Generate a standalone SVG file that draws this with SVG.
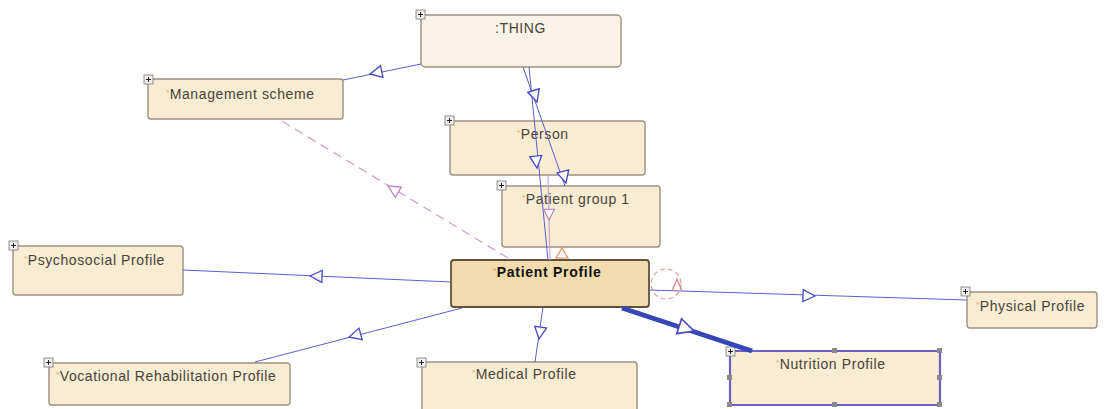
<svg xmlns="http://www.w3.org/2000/svg" width="1105" height="409" viewBox="0 0 1105 409">
  <defs>
    <style>
      .node { fill: #f8ecd3; stroke: #9b9183; stroke-width: 1.4; }
      .thing { fill: #faf3e6; }
      .focus { fill: #f2dcae; stroke: #5e5140; stroke-width: 1.8; }
      .sel { stroke: #6b5fc8; stroke-width: 2.2; }
      .lbl { font-family: "Liberation Sans", Arial, sans-serif; font-size: 14px; letter-spacing: 0.6px; fill: #4a4236; }
      .bold { font-weight: bold; fill: #111; letter-spacing: 0.7px; }
      .star { font-size: 8px; fill: #e8a860; }
      .plus rect { fill: #eeeeee; stroke: #777; stroke-width: 0.8; }
      .plus path { stroke: #222; stroke-width: 1; }
      .edge { fill: none; stroke: #5b5fd0; stroke-width: 1; }
      .pink { fill: none; stroke: #c9a6cf; stroke-width: 1.2; }
      .dash { fill: none; stroke: #cfa2c8; stroke-width: 1.3; stroke-dasharray: 9 6; }
      .tri { fill: #ffffff; stroke: #4248c8; stroke-width: 1.3; }
      .tripink { fill: #ffffff; stroke: #b57cc8; stroke-width: 1.2; }
      .handle { fill: #8a8a8a; }
    </style>
    <g id="plus" class="plus">
      <rect x="0" y="0" width="9" height="9"/>
      <path d="M2 4.5 H7 M4.5 2 V7"/>
    </g>
    <!-- open triangle arrowhead, tip at origin pointing along +x -->
    <path id="arrow" d="M0 0 L-12 -6 L-12 6 Z"/>
  </defs>

  <!-- nodes -->
  <g id="thing">
    <rect class="node thing" x="421" y="15" width="200" height="52" rx="4"/>
    <text class="lbl" x="495" y="33">:THING</text>
    <use href="#plus" x="416" y="10"/>
  </g>
  <g id="management-scheme">
    <rect class="node" x="148" y="79" width="195" height="40" rx="3"/>
    <text class="lbl" x="166" y="99"><tspan class="star" dy="-4">*</tspan><tspan dy="4">Management scheme</tspan></text>
    <use href="#plus" x="144" y="75"/>
  </g>
  <g id="person">
    <rect class="node" x="450" y="121" width="195" height="54" rx="3"/>
    <text class="lbl" x="517" y="139"><tspan class="star" dy="-4">*</tspan><tspan dy="4">Person</tspan></text>
    <use href="#plus" x="445" y="116"/>
  </g>
  <g id="patient-group-1">
    <rect class="node" x="502" y="186" width="158" height="61" rx="3"/>
    <text class="lbl" x="522" y="204"><tspan class="star" dy="-4">*</tspan><tspan dy="4">Patient group 1</tspan></text>
    <use href="#plus" x="497" y="181"/>
  </g>
  <g id="psychosocial-profile">
    <rect class="node" x="13" y="246" width="170" height="49" rx="3"/>
    <text class="lbl" x="24" y="265"><tspan class="star" dy="-4">*</tspan><tspan dy="4">Psychosocial Profile</tspan></text>
    <use href="#plus" x="9" y="241"/>
  </g>
  <g id="physical-profile">
    <rect class="node" x="967" y="292" width="130" height="36" rx="3"/>
    <text class="lbl" x="976" y="311"><tspan class="star" dy="-4">*</tspan><tspan dy="4">Physical Profile</tspan></text>
    <use href="#plus" x="961" y="287"/>
  </g>
  <g id="vocational-rehabilitation-profile">
    <rect class="node" x="49" y="363" width="241" height="42" rx="3"/>
    <text class="lbl" x="56" y="381"><tspan class="star" dy="-4">*</tspan><tspan dy="4">Vocational Rehabilitation Profile</tspan></text>
    <use href="#plus" x="44" y="358"/>
  </g>
  <g id="medical-profile">
    <rect class="node" x="422" y="362" width="215" height="52" rx="3"/>
    <text class="lbl" x="472" y="379"><tspan class="star" dy="-4">*</tspan><tspan dy="4">Medical Profile</tspan></text>
    <use href="#plus" x="417" y="358"/>
  </g>
  <g id="nutrition-profile">
    <rect class="node sel" x="730" y="351" width="210" height="54" rx="2"/>
    <text class="lbl" x="776" y="369"><tspan class="star" dy="-4">*</tspan><tspan dy="4">Nutrition Profile</tspan></text>
    <rect class="handle" x="727" y="348" width="5" height="5"/>
    <rect class="handle" x="832" y="348" width="5" height="5"/>
    <rect class="handle" x="937" y="348" width="5" height="5"/>
    <rect class="handle" x="727" y="375" width="5" height="5"/>
    <rect class="handle" x="937" y="375" width="5" height="5"/>
    <rect class="handle" x="727" y="402" width="5" height="5"/>
    <rect class="handle" x="832" y="402" width="5" height="5"/>
    <rect class="handle" x="937" y="402" width="5" height="5"/>
    <use href="#plus" x="726" y="347"/>
  </g>
  <g id="patient-profile">
    <rect class="node focus" x="451" y="260" width="198" height="47" rx="3"/>
    <text class="lbl bold" x="493" y="277"><tspan class="star" dy="-4">*</tspan><tspan dy="4">Patient Profile</tspan></text>
  </g>

  <!-- connectors -->
  <g id="connectors">
    <!-- :THING to Management scheme -->
    <line class="edge" x1="421" y1="64" x2="343" y2="80"/>
    <use href="#arrow" class="tri" transform="translate(370,74) rotate(168)"/>
    <!-- :THING down through Person to Patient Profile -->
    <line class="edge" x1="529" y1="67" x2="548" y2="260"/>
    <use href="#arrow" class="tri" transform="translate(537,168) rotate(84)"/>
    <!-- :THING down to Patient group 1 -->
    <line class="edge" x1="523" y1="67" x2="565" y2="186"/>
    <use href="#arrow" class="tri" transform="translate(537,102) rotate(73)"/>
    <use href="#arrow" class="tri" transform="translate(566,183) rotate(75)"/>
    <!-- Patient group 1 to Patient Profile -->
    <line class="pink" x1="548" y1="175" x2="550" y2="260"/>
    <use href="#arrow" class="tripink" transform="translate(549,220) rotate(90) scale(0.9)"/>
    <path d="M556 258 L562 248 L568 258 Z" fill="#fff" stroke="#e0905a" stroke-width="1.2"/>
    <!-- Patient Profile to Management scheme (dashed) -->
    <line class="dash" x1="508" y1="258" x2="280" y2="120"/>
    <use href="#arrow" class="tripink" transform="translate(388,186) rotate(211)"/>
    <!-- Patient Profile to Psychosocial Profile -->
    <line class="edge" x1="451" y1="282" x2="183" y2="270"/>
    <use href="#arrow" class="tri" transform="translate(310,276) rotate(182)"/>
    <!-- Patient Profile to Vocational Rehabilitation Profile -->
    <line class="edge" x1="462" y1="308" x2="255" y2="362"/>
    <use href="#arrow" class="tri" transform="translate(349,337) rotate(165)"/>
    <!-- Patient Profile to Medical Profile -->
    <line class="edge" x1="543" y1="307" x2="535" y2="362"/>
    <use href="#arrow" class="tri" transform="translate(539,339) rotate(98)"/>
    <!-- Patient Profile to Physical Profile -->
    <line class="edge" x1="649" y1="290" x2="967" y2="300"/>
    <use href="#arrow" class="tri" transform="translate(815,296) rotate(2)"/>
    <!-- self relation on Patient Profile -->
    <circle cx="666" cy="284" r="15" fill="none" stroke="#e0a0a0" stroke-width="1.2" stroke-dasharray="5 3"/>
    <path d="M672 291 L677 279 L682 291" fill="none" stroke="#d88080" stroke-width="1.2"/>
    <!-- Patient Profile to Nutrition Profile (selected, thick) -->
    <line x1="622" y1="308" x2="752" y2="351" stroke="#3646b8" stroke-width="5"/>
    <use href="#arrow" class="tri" transform="translate(694,331) rotate(18) scale(1.3)"/>
  </g>
</svg>
